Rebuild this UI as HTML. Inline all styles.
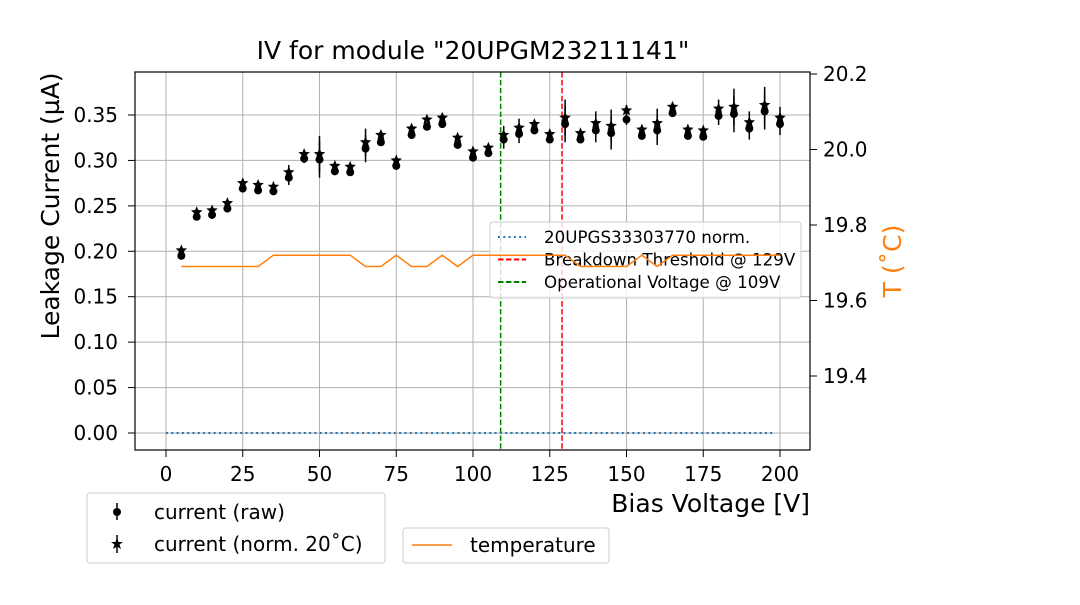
<!DOCTYPE html>
<html><head><meta charset="utf-8"><style>
body{margin:0;background:#fff;}
svg text{font-family:"DejaVu Sans","Liberation Sans",sans-serif;}
</style></head><body>
<svg id="chart" width="1080" height="600" xmlns="http://www.w3.org/2000/svg">
<rect width="1080" height="600" fill="#fff"/>
<g id="grid"></g>
<g id="marks"></g>
<g id="axes"></g>
</svg>
<script>
const voltages=[5,10,15,20,25,30,35,40,45,50,55,60,65,70,75,80,85,90,95,100,105,110,115,120,125,130,135,140,145,150,155,160,165,170,175,180,185,190,195,200];
const rawCurrent=[0.195,0.238,0.240,0.247,0.269,0.267,0.266,0.281,0.302,0.301,0.288,0.287,0.313,0.320,0.294,0.328,0.337,0.340,0.317,0.303,0.308,0.323,0.329,0.333,0.323,0.340,0.323,0.333,0.330,0.345,0.327,0.333,0.352,0.327,0.326,0.349,0.351,0.335,0.354,0.340];
const normCurrent=[0.201,0.243,0.245,0.253,0.275,0.273,0.271,0.287,0.307,0.307,0.294,0.293,0.320,0.328,0.300,0.335,0.345,0.347,0.325,0.310,0.314,0.328,0.336,0.340,0.329,0.347,0.330,0.341,0.338,0.355,0.334,0.341,0.359,0.334,0.333,0.357,0.359,0.342,0.361,0.347];
const currentErr=[0.003,0.003,0.003,0.003,0.003,0.003,0.003,0.008,0.005,0.02,0.003,0.003,0.015,0.004,0.004,0.003,0.003,0.003,0.004,0.004,0.004,0.01,0.01,0.004,0.004,0.02,0.004,0.013,0.018,0.006,0.004,0.016,0.004,0.004,0.004,0.01,0.02,0.012,0.02,0.012];
const tempVolt=[5,10,15,20,25,30,35,40,45,50,55,60,65,70,75,80,85,90,95,100,105,110,115,120,125,130,135,140,145,150,155,160,165,170,175,180,185,190,195,200];
const temperature=[19.69,19.69,19.69,19.69,19.69,19.69,19.72,19.72,19.72,19.72,19.72,19.72,19.69,19.69,19.72,19.69,19.69,19.72,19.69,19.72,19.72,19.72,19.72,19.72,19.72,19.72,19.69,19.69,19.69,19.69,19.72,19.69,19.72,19.72,19.72,19.72,19.72,19.72,19.72,19.72];
const xTicks=[0,25,50,75,100,125,150,175,200];
const yTicks=[0,0.05,0.10,0.15,0.20,0.25,0.30,0.35];
const y2Ticks=[19.4,19.6,19.8,20.0,20.2];
const refLine=[0,198];
const opVoltage=109, bdVoltage=129;

const L=135,R=810,T=72,B=450;
const xs=v=>166+(v)*(780-166)/200;
const ys=v=>433-v*(433-115)/0.35;
const ys2=v=>74+(20.2-v)*(376-74)/0.8;
const NS="http://www.w3.org/2000/svg";
function mk(parent,tag,attrs,text){const e=document.createElementNS(NS,tag);for(const k in attrs)e.setAttribute(k,attrs[k]);if(text!==undefined)e.textContent=text;document.getElementById(parent).appendChild(e);return e;}
xTicks.forEach(t=>{const e=mk('grid','line',{x1:xs(t),x2:xs(t),y1:T,y2:B,stroke:'#b0b0b0','stroke-width':1});

});
yTicks.forEach(t=>{const e=mk('grid','line',{x1:L,x2:R,y1:ys(t),y2:ys(t),stroke:'#b0b0b0','stroke-width':1});

});
let e=mk('marks','line',{x1:xs(refLine[0]),x2:xs(refLine[1]),y1:ys(0),y2:ys(0),stroke:'#1f77b4','stroke-width':2,'stroke-dasharray':'2,3.3'});


e=mk('marks','line',{x1:xs(opVoltage),x2:xs(opVoltage),y1:T,y2:B,stroke:'green','stroke-width':1.5,'stroke-dasharray':'5.5,2.4'});


e=mk('marks','line',{x1:xs(bdVoltage),x2:xs(bdVoltage),y1:T,y2:B,stroke:'red','stroke-width':1.5,'stroke-dasharray':'5.5,2.4'});


function star(cx,cy,r){let p=[];for(let i=0;i<10;i++){const a=-Math.PI/2+i*Math.PI/5;const rr=i%2?r*0.45:r;p.push((cx+rr*Math.cos(a)).toFixed(1)+','+(cy+rr*Math.sin(a)).toFixed(1));}return p.join(' ');}
voltages.forEach((v,i)=>{
 const x=xs(v);
 e=mk('marks','line',{x1:x,x2:x,y1:ys(rawCurrent[i]-currentErr[i]),y2:ys(rawCurrent[i]+currentErr[i]),stroke:'#000','stroke-width':1.5});
 
 
 e=mk('marks','line',{x1:x,x2:x,y1:ys(normCurrent[i]-currentErr[i]),y2:ys(normCurrent[i]+currentErr[i]),stroke:'#000','stroke-width':1.5});
 
 
 e=mk('marks','circle',{cx:x,cy:ys(rawCurrent[i]),r:4,fill:'#000'});
 
 
 e=mk('marks','polygon',{points:star(x,ys(normCurrent[i]),6),fill:'#000'});
 
 
});
e=mk('marks','rect',{x:490,y:222,width:311,height:76,rx:3,fill:'#fff','fill-opacity':0.8,stroke:'#ccc'});


const lg=[['20UPGS33303770 norm.','#1f77b4','2,3.3'],['Breakdown Threshold @ 129V','red','5.5,2.4'],['Operational Voltage @ 109V','green','5.5,2.4']];
lg.forEach((l,i)=>{const y=237+i*22.5;
 e=mk('marks','line',{x1:498,x2:526,y1:y,y2:y,stroke:l[1],'stroke-width':2,'stroke-dasharray':l[2]});
 
 
 e=mk('marks','text',{x:544,y:y+6,'font-size':16.7,fill:'#000'},l[0]);
 
 });
e=mk('marks','polyline',{points:tempVolt.map((v,i)=>xs(v)+','+ys2(temperature[i])).join(' '),fill:'none',stroke:'#ff7f0e','stroke-width':1.5});


e=mk('axes','rect',{x:L,y:T,width:R-L,height:B-T,fill:'none',stroke:'#000','stroke-width':1.2});


xTicks.forEach(t=>{mk('axes','line',{x1:xs(t),x2:xs(t),y1:B,y2:B+7,stroke:'#000'});
 e=mk('axes','text',{x:xs(t),y:481,'font-size':20,'text-anchor':'middle'},String(t));
 
 });
yTicks.forEach(t=>{mk('axes','line',{x1:L-7,x2:L,y1:ys(t),y2:ys(t),stroke:'#000'});
 e=mk('axes','text',{x:118,y:ys(t)+7,'font-size':20,'text-anchor':'end'},t.toFixed(2));
 
 });
y2Ticks.forEach(t=>{mk('axes','line',{x1:R,x2:R+7,y1:ys2(t),y2:ys2(t),stroke:'#000'});
 e=mk('axes','text',{x:R+13,y:ys2(t)+7,'font-size':20},t.toFixed(1));
 
 });
</script>
<svg style="position:absolute;left:0;top:0" width="1080" height="600" xmlns="http://www.w3.org/2000/svg">
<text x="473" y="59" font-size="25" text-anchor="middle">IV for module "20UPGM23211141"</text>
<text x="810" y="512" font-size="25" text-anchor="end">Bias Voltage [V]</text>
<text transform="translate(59,206) rotate(-90)" font-size="25" text-anchor="middle">Leakage Current (µA)</text>
<text transform="translate(901,261) rotate(-90)" font-size="25" text-anchor="middle" fill="#ff7f0e">T (˚C)</text>
<g>
<rect x="87" y="493" width="298" height="70" rx="3" fill="#fff" stroke="#ccc"/>
<line x1="117" x2="117" y1="503" y2="520" stroke="#000" stroke-width="1.5"/><circle cx="117" cy="512" r="4"/>
<text x="154" y="519" font-size="20">current (raw)</text>
<line x1="117" x2="117" y1="535" y2="553" stroke="#000" stroke-width="1.5"/><polygon points="117,538 118.6,542 123,542 119.5,544.5 121,549 117,546.5 113,549 114.5,544.5 111,542 115.4,542"/>
<text x="154" y="551" font-size="20">current (norm. 20˚C)</text>
</g>
<g>
<rect x="403" y="528" width="206" height="35" rx="3" fill="#fff" stroke="#ccc"/>
<line x1="412" x2="452" y1="545" y2="545" stroke="#ff7f0e" stroke-width="1.5"/>
<text x="470" y="552" font-size="20">temperature</text>
</g>
</svg>
</body></html>
